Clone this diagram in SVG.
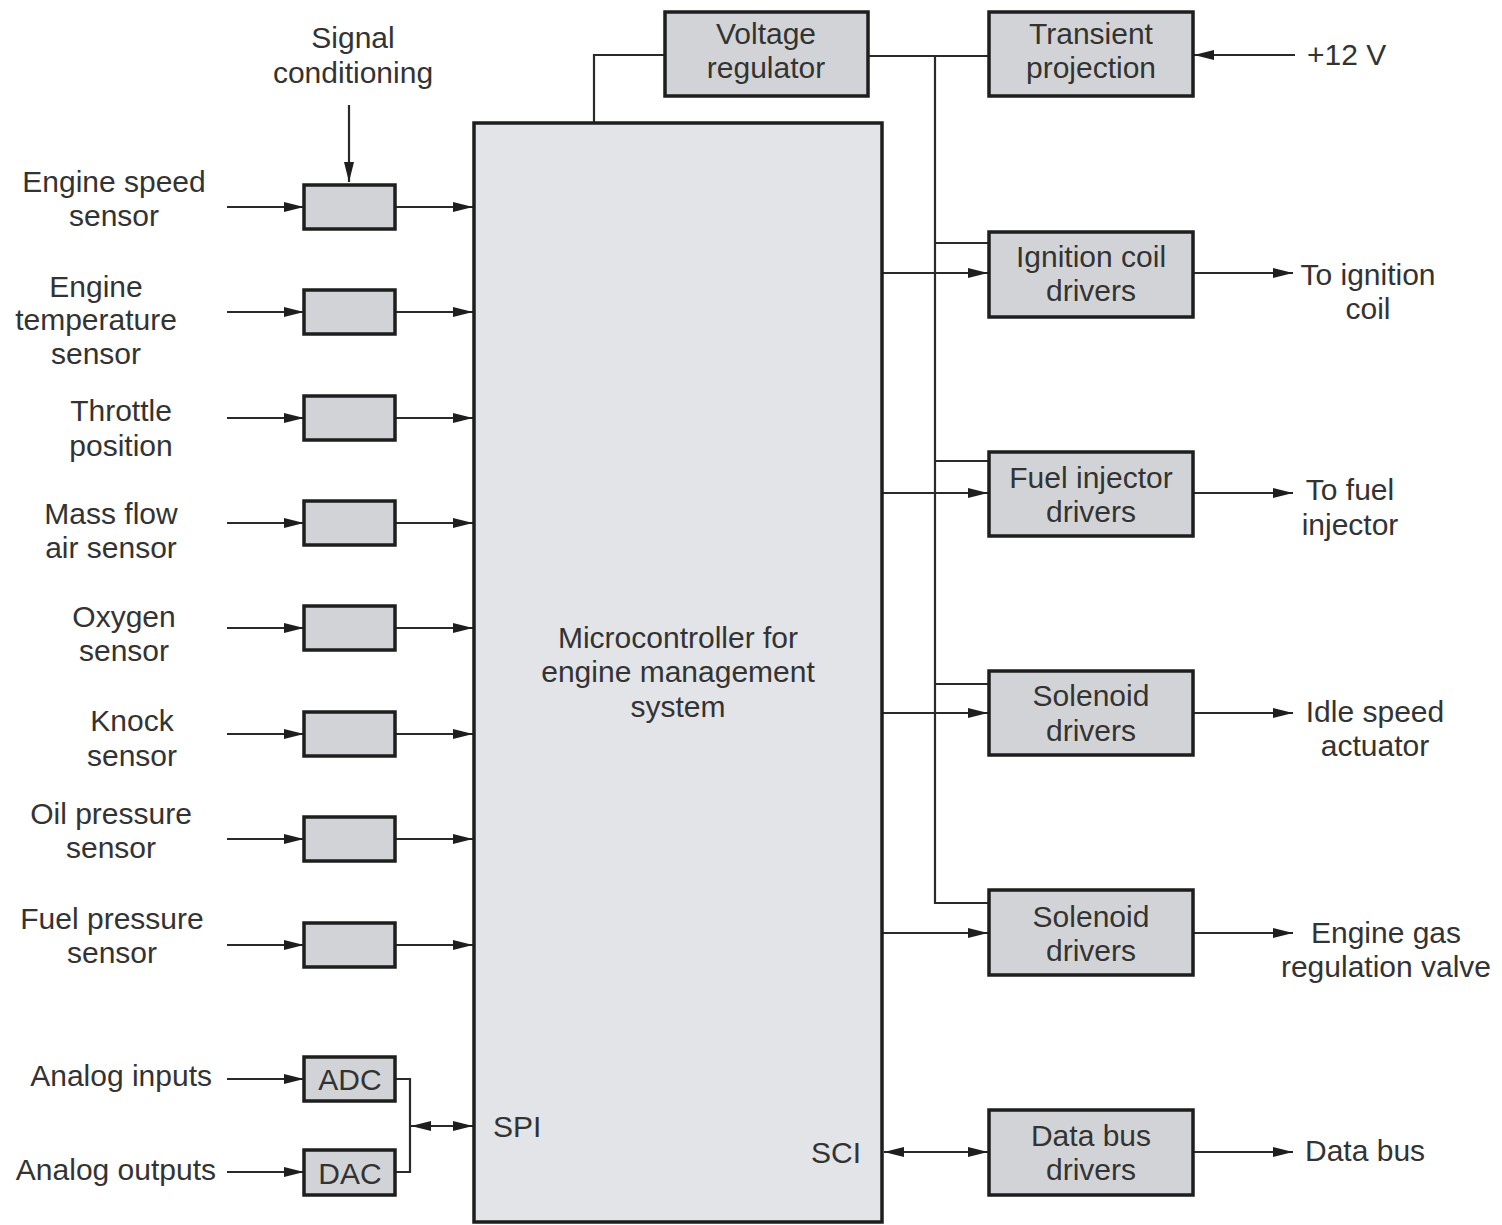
<svg xmlns="http://www.w3.org/2000/svg" width="1502" height="1225" viewBox="0 0 1502 1225">
<defs>
<style>
.box{fill:#d2d3d6;stroke:#1e1e1e;stroke-width:3.5}
.main{fill:#e2e4e7;stroke:#1e1e1e;stroke-width:3.5}
.ln{fill:none;stroke:#2a2a2a;stroke-width:2.2}
.ar{marker-end:url(#ah)}
.da{marker-start:url(#ah);marker-end:url(#ah)}
text{font-family:"Liberation Sans",Arial,sans-serif;font-size:30px;fill:#333}
.c{text-anchor:middle}
.e{text-anchor:end}
</style>
<marker id="ah" viewBox="0 0 20 10" refX="20" refY="5" markerWidth="20" markerHeight="10" markerUnits="userSpaceOnUse" orient="auto-start-reverse">
<path d="M0,0 L20,5 L0,10 Z" fill="#1e1e1e"/>
</marker>
</defs>
<rect width="1502" height="1225" fill="#fff"/>

<g id="connectors">
<line class="ln ar" x1="349" y1="105" x2="349" y2="182"/>
<line class="ln ar" x1="227" y1="207" x2="304" y2="207"/><line class="ln ar" x1="395" y1="207" x2="473" y2="207"/>
<line class="ln ar" x1="227" y1="312" x2="304" y2="312"/><line class="ln ar" x1="395" y1="312" x2="473" y2="312"/>
<line class="ln ar" x1="227" y1="418" x2="304" y2="418"/><line class="ln ar" x1="395" y1="418" x2="473" y2="418"/>
<line class="ln ar" x1="227" y1="523" x2="304" y2="523"/><line class="ln ar" x1="395" y1="523" x2="473" y2="523"/>
<line class="ln ar" x1="227" y1="628" x2="304" y2="628"/><line class="ln ar" x1="395" y1="628" x2="473" y2="628"/>
<line class="ln ar" x1="227" y1="734" x2="304" y2="734"/><line class="ln ar" x1="395" y1="734" x2="473" y2="734"/>
<line class="ln ar" x1="227" y1="839" x2="304" y2="839"/><line class="ln ar" x1="395" y1="839" x2="473" y2="839"/>
<line class="ln ar" x1="227" y1="945" x2="304" y2="945"/><line class="ln ar" x1="395" y1="945" x2="473" y2="945"/>
<line class="ln ar" x1="227" y1="1079" x2="304" y2="1079"/>
<line class="ln ar" x1="227" y1="1172" x2="304" y2="1172"/>
<polyline class="ln" points="395,1079 410,1079 410,1172 395,1172"/>
<line class="ln da" x1="411" y1="1126" x2="473" y2="1126"/>
<polyline class="ln" points="665,55 594,55 594,123"/>
<line class="ln" x1="868" y1="56" x2="989" y2="56"/>
<line class="ln ar" x1="1295" y1="55" x2="1194" y2="55"/>
<polyline class="ln" points="935,56 935,903 989,903"/>
<line class="ln" x1="935" y1="243" x2="989" y2="243"/>
<line class="ln" x1="935" y1="461" x2="989" y2="461"/>
<line class="ln" x1="935" y1="684" x2="989" y2="684"/>
<line class="ln ar" x1="883" y1="273" x2="988" y2="273"/>
<line class="ln ar" x1="883" y1="493" x2="988" y2="493"/>
<line class="ln ar" x1="883" y1="713" x2="988" y2="713"/>
<line class="ln ar" x1="883" y1="933" x2="988" y2="933"/>
<line class="ln da" x1="884" y1="1152" x2="988" y2="1152"/>
<line class="ln ar" x1="1194" y1="273" x2="1293" y2="273"/>
<line class="ln ar" x1="1194" y1="493" x2="1293" y2="493"/>
<line class="ln ar" x1="1194" y1="713" x2="1293" y2="713"/>
<line class="ln ar" x1="1194" y1="933" x2="1293" y2="933"/>
<line class="ln ar" x1="1194" y1="1152" x2="1293" y2="1152"/>
</g>

<g id="micro"><rect class="main" x="474" y="123" width="408" height="1099"/>
<text class="c" x="678" y="648">Microcontroller for</text>
<text class="c" x="678" y="682">engine management</text>
<text class="c" x="678" y="717">system</text>
<text x="493" y="1137">SPI</text>
<text class="c" x="836" y="1163">SCI</text></g>

<g id="signal-label"><text class="c" x="353" y="48">Signal</text><text class="c" x="353" y="83">conditioning</text></g>

<g id="sc1"><rect class="box" x="304" y="185" width="91" height="44"/></g>
<g id="sc2"><rect class="box" x="304" y="290" width="91" height="44"/></g>
<g id="sc3"><rect class="box" x="304" y="396" width="91" height="44"/></g>
<g id="sc4"><rect class="box" x="304" y="501" width="91" height="44"/></g>
<g id="sc5"><rect class="box" x="304" y="606" width="91" height="44"/></g>
<g id="sc6"><rect class="box" x="304" y="712" width="91" height="44"/></g>
<g id="sc7"><rect class="box" x="304" y="817" width="91" height="44"/></g>
<g id="sc8"><rect class="box" x="304" y="923" width="91" height="44"/></g>

<g id="adc"><rect class="box" x="304" y="1057" width="91" height="44"/><text class="c" x="350" y="1090">ADC</text></g>
<g id="dac"><rect class="box" x="304" y="1150" width="91" height="45"/><text class="c" x="350" y="1184">DAC</text></g>

<g id="sensor-labels">
<text class="c" x="114" y="192">Engine speed</text><text class="c" x="114" y="226">sensor</text>
<text class="c" x="96" y="297">Engine</text><text class="c" x="96" y="330">temperature</text><text class="c" x="96" y="364">sensor</text>
<text class="c" x="121" y="421">Throttle</text><text class="c" x="121" y="456">position</text>
<text class="c" x="111" y="524">Mass flow</text><text class="c" x="111" y="558">air sensor</text>
<text class="c" x="124" y="627">Oxygen</text><text class="c" x="124" y="661">sensor</text>
<text class="c" x="132" y="731">Knock</text><text class="c" x="132" y="766">sensor</text>
<text class="c" x="111" y="824">Oil pressure</text><text class="c" x="111" y="858">sensor</text>
<text class="c" x="112" y="929">Fuel pressure</text><text class="c" x="112" y="963">sensor</text>
<text class="e" x="212" y="1086">Analog inputs</text>
<text class="e" x="216" y="1180">Analog outputs</text>
</g>

<g id="vreg"><rect class="box" x="665" y="12" width="203" height="84"/><text class="c" x="766" y="44">Voltage</text><text class="c" x="766" y="78">regulator</text></g>
<g id="transient"><rect class="box" x="989" y="12" width="204" height="84"/><text class="c" x="1091" y="44">Transient</text><text class="c" x="1091" y="78">projection</text></g>
<g id="ign"><rect class="box" x="989" y="232" width="204" height="85"/><text class="c" x="1091" y="267">Ignition coil</text><text class="c" x="1091" y="301">drivers</text></g>
<g id="fuel"><rect class="box" x="989" y="452" width="204" height="84"/><text class="c" x="1091" y="488">Fuel injector</text><text class="c" x="1091" y="522">drivers</text></g>
<g id="sol1"><rect class="box" x="989" y="671" width="204" height="84"/><text class="c" x="1091" y="706">Solenoid</text><text class="c" x="1091" y="741">drivers</text></g>
<g id="sol2"><rect class="box" x="989" y="890" width="204" height="85"/><text class="c" x="1091" y="927">Solenoid</text><text class="c" x="1091" y="961">drivers</text></g>
<g id="dbus"><rect class="box" x="989" y="1110" width="204" height="85"/><text class="c" x="1091" y="1146">Data bus</text><text class="c" x="1091" y="1180">drivers</text></g>

<g id="out-labels">
<text x="1307" y="65">+12 V</text>
<text class="c" x="1368" y="285">To ignition</text><text class="c" x="1368" y="319">coil</text>
<text class="c" x="1350" y="500">To fuel</text><text class="c" x="1350" y="535">injector</text>
<text class="c" x="1375" y="722">Idle speed</text><text class="c" x="1375" y="756">actuator</text>
<text class="c" x="1386" y="943">Engine gas</text><text class="c" x="1386" y="977">regulation valve</text>
<text x="1305" y="1161">Data bus</text>
</g>
</svg>
